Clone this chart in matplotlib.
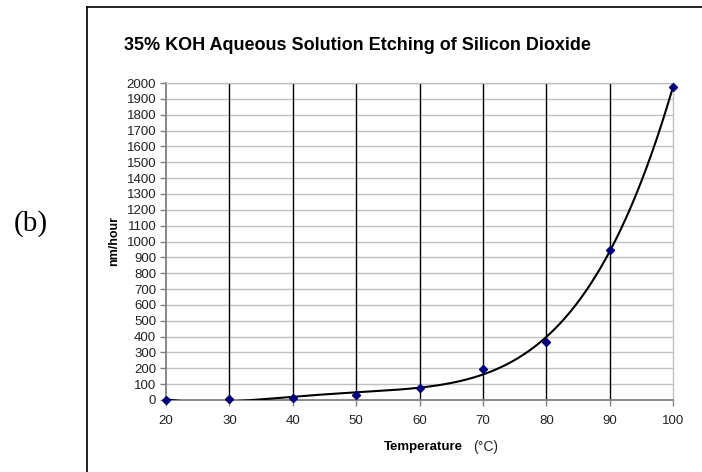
import numpy as np
import matplotlib.pyplot as plt
from matplotlib.lines import Line2D

# measured etch rate of SiO2 in 35% KOH
temps = [20, 30, 40, 50, 60, 70, 80, 90, 100]
rates = [0, 5, 15, 33, 78, 194, 366, 946, 1975]

x_ticks = list(range(20, 101, 10))
y_ticks = list(range(0, 2001, 100))

plt.rcParams['font.family'] = ['Liberation Sans', 'DejaVu Sans']

fig = plt.figure(figsize=(7.02, 4.72), dpi=100)
ax = fig.add_axes([166/702, 1-400/472, (673-166)/702, (400-83)/472])

#polynomial trend line through the points (like the spreadsheet trendline)
coef = np.polyfit(temps, rates, 4)
xt = np.linspace(20, 100, 400)
yt = np.polyval(coef, xt)

for y in y_ticks[1:]:
    ax.axhline(y, color='#c0c0c0', lw=1, zorder=1)
for x in x_ticks[1:-1]:
    ax.axvline(x, color='black', lw=1, zorder=1)

ax.plot(xt, yt, color='black', lw=1.5, zorder=3)
ax.plot(temps, rates, linestyle='none', marker='D', markersize=4,
        color='#000080', zorder=4, clip_on=False)

ax.set_xlim(20, 100)
ax.set_ylim(0, 2000)
ax.set_xticks(x_ticks)
ax.set_yticks(y_ticks)
ax.tick_params(axis='both', labelsize=9.5, colors='#808080', labelcolor='#222222', width=1)
ax.tick_params(axis='x', length=4, pad=7)
ax.tick_params(axis='y', length=4, pad=3)

for s in ['left', 'bottom']:
    ax.spines[s].set_color('#808080')
    ax.spines[s].set_linewidth(1.3)
for s in ['top', 'right']:
    ax.spines[s].set_color('#c0c0c0')
    ax.spines[s].set_linewidth(1)

ax.set_ylabel('nm/hour', fontsize=9, fontweight='bold', labelpad=5)

fig.text(463/702, 1-447/472, 'Temperature', ha='right', va='center', fontsize=9.5, fontweight='bold')
fig.text(473/702, 1-447/472, '(\u00b0C)', ha='left', va='center', fontsize=10, color='#222222')

fig.text(357/702, 1-45/472, '35% KOH Aqueous Solution Etching of Silicon Dioxide',
         ha='center', va='center', fontsize=13, fontweight='bold')

fig.text(31/702, 1-224/472, '(b)', ha='center', va='center', fontsize=21,
         family=['Liberation Serif', 'DejaVu Serif'])

# chart area border (only top and left edges visible in the crop)
fig.add_artist(Line2D([87/702, 1], [1-7/472, 1-7/472], color='black', lw=1.2))
fig.add_artist(Line2D([87/702, 87/702], [0, 1-7/472], color='black', lw=1.2))

fig.savefig('out.png', dpi=100)
